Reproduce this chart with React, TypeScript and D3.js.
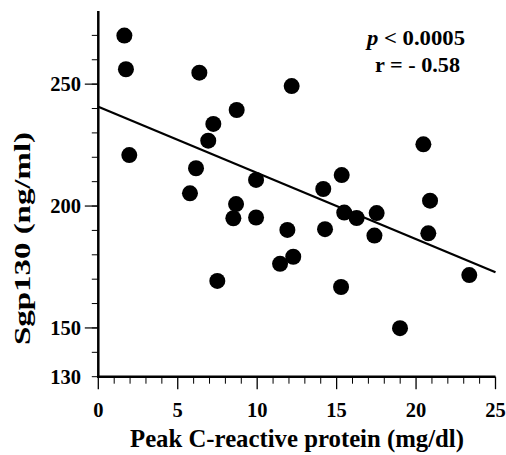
import React from "react";
import * as d3 from "d3";

const crp: number[] = [1.64, 1.74, 1.95, 6.36, 8.71, 7.24, 6.92, 6.15, 5.77, 8.67, 8.5, 9.93, 9.93, 12.17, 20.46, 15.32, 14.16, 20.88, 15.48, 16.26, 17.52, 11.9, 14.27, 17.38, 20.77, 11.44, 12.27, 15.28, 18.99, 23.35, 7.49];
const sgp130: number[] = [269.9, 256.1, 220.9, 254.7, 239.4, 233.7, 226.8, 215.5, 205.2, 200.8, 195, 195.3, 210.7, 249.2, 225.3, 212.7, 207, 202.2, 197.3, 195.1, 197.1, 190.2, 190.5, 187.9, 188.8, 176.3, 179.2, 166.8, 149.9, 171.7, 169.3];
const regressionX: number[] = [0, 25];
const regressionY: number[] = [240.7, 172.8];
const xTickLabels: number[] = [0, 5, 10, 15, 20, 25];
const yTickLabels: number[] = [130, 150, 200, 250];
const yMajorTicks: number[] = [150, 200, 250];

const FONT = "'Liberation Serif', 'Times New Roman', Times, serif";

export default function App() {
  const W = 506, H = 455;
  const x = d3.scaleLinear().domain([0, 25]).range([98.3, 495.5]);
  const y = d3.scaleLinear().domain([130, 280]).range([376.7, 11]);
  const xMinor = d3.range(0, 26, 1);
  const yMinor = d3.range(130, 280, 10);
  const line = d3.line<number>().x((d) => x(regressionX[d])).y((d) => y(regressionY[d]));

  return (
    <svg width={W} height={H} style={{ position: "absolute", left: 0, top: 0, background: "#fff" }} fontFamily={FONT}>
      {/* y minor ticks */}
      {yMinor.map((v) => (
        <line key={"ym" + v} x1={x(0) - 6.5} x2={x(0)} y1={y(v)} y2={y(v)} stroke="#000" strokeWidth={1} />
      ))}
      {yMajorTicks.map((v) => (
        <line key={"yM" + v} x1={x(0) - 13.5} x2={x(0)} y1={y(v)} y2={y(v)} stroke="#000" strokeWidth={1.2} />
      ))}
      {/* x minor ticks */}
      {xMinor.map((v) => (
        <line key={"xm" + v} x1={x(v)} x2={x(v)} y1={y(130)} y2={y(130) + (v % 5 === 0 ? 12.5 : 7)} stroke="#000" strokeWidth={v % 5 === 0 ? 1.3 : 1} />
      ))}
      {/* axes */}
      <line x1={x(0)} x2={x(0)} y1={y(280)} y2={y(130) + 1.2} stroke="#000" strokeWidth={2.5} />
      <line x1={x(0) - 1.2} x2={x(25)} y1={y(130)} y2={y(130)} stroke="#000" strokeWidth={2.5} />
      {/* y tick labels */}
      {yTickLabels.map((v) => (
        <text key={"yl" + v} x={81} y={y(v) + 7} textAnchor="end" fontSize={20.5} fontWeight="bold">{v}</text>
      ))}
      {/* x tick labels */}
      {xTickLabels.map((v) => (
        <text key={"xl" + v} x={x(v)} y={417} textAnchor="middle" fontSize={20.5} fontWeight="bold">{v}</text>
      ))}
      {/* regression */}
      <path d={line([0, 1]) || ""} fill="none" stroke="#000" strokeWidth={2.2} />
      {/* points */}
      {crp.map((c, i) => (
        <circle key={"p" + i} cx={x(c)} cy={y(sgp130[i])} r={8} fill="#000" />
      ))}
      {/* annotation */}
      <text x={416} y={45} textAnchor="middle" fontSize={21} fontWeight="bold" textLength={98} lengthAdjust="spacingAndGlyphs">
        <tspan fontStyle="italic">p</tspan> &lt; 0.0005
      </text>
      <text x={417.5} y={72} textAnchor="middle" fontSize={21} fontWeight="bold" textLength={85} lengthAdjust="spacingAndGlyphs">r = - 0.58</text>
      {/* axis titles */}
      <text x={297} y={447} textAnchor="middle" fontSize={25} fontWeight="bold" textLength={334} lengthAdjust="spacingAndGlyphs">Peak C-reactive protein (mg/dl)</text>
      <text transform="translate(30,238.5) rotate(-90)" x={0} y={0} textAnchor="middle" fontSize={22.5} fontWeight="bold" textLength={213} lengthAdjust="spacingAndGlyphs">Sgp130 (ng/ml)</text>
    </svg>
  );
}
